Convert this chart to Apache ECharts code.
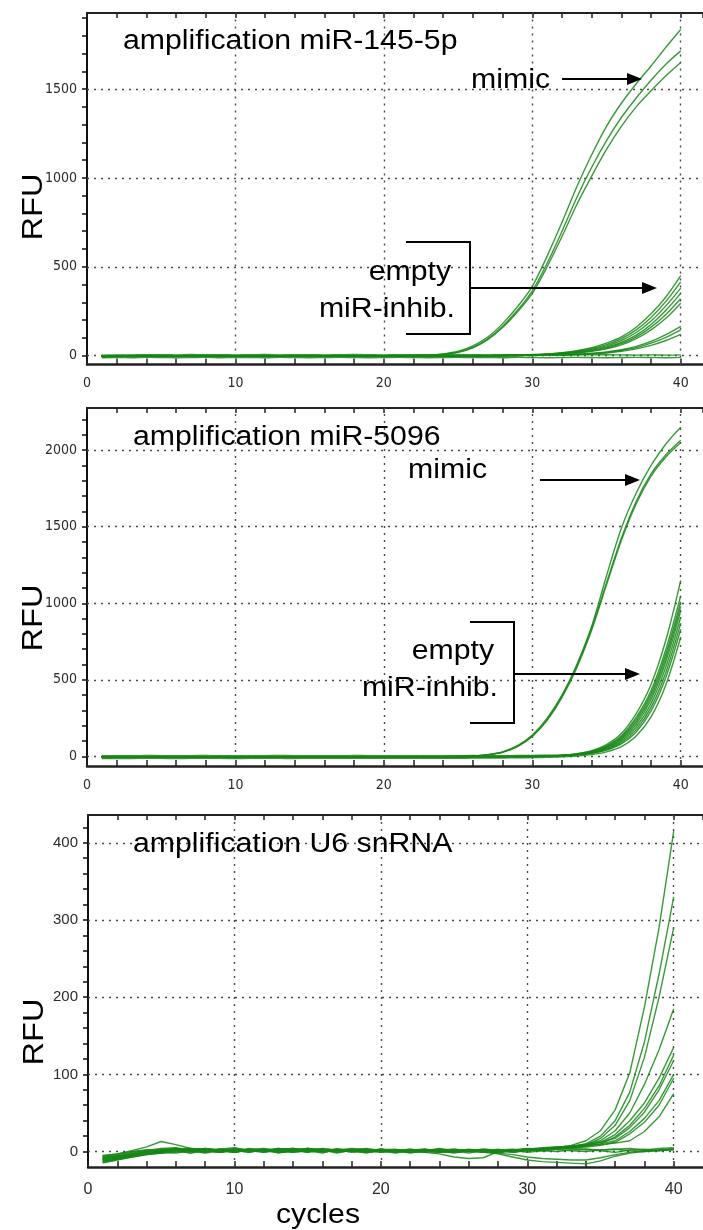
<!DOCTYPE html>
<html><head><meta charset="utf-8">
<script src="https://cdn.jsdelivr.net/npm/echarts@6/dist/echarts.min.js"></script>
<style>html,body{margin:0;padding:0;background:#fff}#c{width:703px;height:1230px}</style>
</head><body><div id="c"></div>
<script>
// ---------- data ----------
const cycles = [1,2,3,4,5,6,7,8,9,10,11,12,13,14,15,16,17,18,19,20,21,22,23,24,25,26,27,28,29,30,31,32,33,34,35,36,37,38,39,40];
const xTickLabels = [0,10,20,30,40];

// Panel 1: miR-145-5p
const p1Ticks = [0,500,1000,1500];
const p1Mimic1 = [-4,-3,-4,-2,-3,-2,1,-2,-3,-1,-2,-3,-2,-1,-3,-2,-2,-1,-2,-1,0,1,3,10,25,55,105,180,275,390,560,750,950,1130,1290,1420,1530,1630,1735,1835];
const p1Mimic2 = [-3,-4,-2,-3,-1,-2,-3,-1,-2,-3,-2,-1,-2,-3,-1,-2,-3,-2,-1,-2,-1,0,2,8,20,48,95,165,255,365,520,700,890,1060,1210,1340,1450,1550,1640,1715];
const p1Mimic3 = [-5,-3,-3,-4,-2,-3,-1,-2,-4,-2,-3,-1,-3,-2,-2,-3,-1,-2,-3,-1,-1,0,2,7,18,44,90,158,245,350,500,670,850,1010,1160,1290,1400,1490,1575,1650];
const p1Empty1 = [-6,-4,-5,-3,-4,-3,-2,-4,-3,-2,-3,-4,-2,-3,-2,-3,-4,-2,-3,-2,-1,-2,-1,-2,-1,0,1,2,3,6,10,17,28,45,70,105,160,235,330,450];
const p1Empty2 = [-5,-5,-3,-4,-3,-2,-4,-3,-3,-2,-4,-3,-2,-3,-3,-2,-3,-2,-3,-2,-2,-1,-2,-1,0,-1,0,1,3,5,9,15,25,40,62,95,145,215,305,415];
const p1Empty3 = [-4,-3,-4,-2,-3,-3,-2,-3,-4,-2,-3,-2,-3,-3,-2,-4,-2,-3,-2,-3,-2,-1,-2,-2,-1,0,-1,1,2,4,8,13,22,35,55,85,130,195,280,380];
const p1Empty4 = [-6,-4,-3,-3,-2,-4,-3,-2,-3,-3,-2,-3,-4,-2,-3,-2,-3,-3,-2,-2,-3,-2,-1,-2,-1,-1,0,0,2,3,6,11,18,30,48,75,115,175,255,350];
const p1Empty5 = [-5,-3,-4,-3,-3,-2,-3,-4,-2,-3,-3,-2,-4,-3,-2,-3,-2,-3,-2,-3,-2,-2,-1,-2,-1,0,-1,0,1,3,5,10,16,27,43,68,105,160,232,320];
const p1Empty6 = [-4,-4,-3,-2,-3,-3,-4,-2,-3,-2,-3,-3,-2,-4,-2,-3,-3,-2,-2,-3,-2,-1,-2,-1,-1,0,-1,0,1,2,4,8,14,24,38,60,95,145,210,295];
const p1Empty7 = [-5,-4,-3,-3,-4,-2,-3,-3,-2,-4,-3,-2,-3,-2,-3,-4,-2,-3,-2,-2,-3,-2,-1,-2,-1,-1,0,-1,1,2,3,5,8,13,21,33,52,80,118,165];
const p1Empty8 = [-3,-4,-3,-2,-3,-3,-2,-3,-4,-2,-3,-3,-2,-3,-2,-2,-3,-4,-2,-3,-2,-1,-2,-1,-2,0,-1,0,1,2,3,4,7,11,18,29,45,70,103,145];
const p1Empty9 = [-4,-3,-3,-3,-2,-3,-4,-2,-3,-3,-2,-3,-2,-3,-3,-2,-3,-2,-3,-2,-2,-2,-1,-2,-1,-1,0,-1,0,1,2,4,6,9,15,24,38,58,85,120];
const p1Flat1 = [3,4,4,5,5,4,6,5,5,4,5,6,4,5,5,4,5,6,5,4,5,5,4,5,6,5,4,5,5,4,5,4,5,4,5,4,3,4,3,4];
const p1Flat2 = [-12,-11,-12,-10,-11,-12,-11,-10,-12,-11,-11,-12,-10,-11,-12,-11,-10,-11,-12,-11,-10,-11,-12,-11,-10,-11,-11,-12,-10,-11,-12,-11,-10,-11,-12,-11,-10,-11,-12,-10];

// Panel 2: miR-5096
const p2Ticks = [0,500,1000,1500,2000];
const p2Mimic1 = [-6,-5,-4,-5,-3,-4,-4,-3,-5,-4,-3,-4,-4,-3,-4,-3,-3,-4,-2,-3,-3,-2,-2,-1,0,4,12,30,70,140,250,400,600,850,1180,1490,1720,1900,2040,2150];
const p2Mimic2 = [-5,-5,-4,-4,-4,-3,-4,-5,-3,-4,-4,-3,-3,-4,-3,-4,-3,-3,-3,-2,-2,-3,-1,-2,0,3,10,27,64,130,235,385,580,825,1120,1410,1650,1830,1955,2050];
const p2Mimic3 = [-6,-4,-5,-4,-3,-4,-3,-4,-4,-3,-4,-3,-4,-3,-3,-3,-4,-2,-3,-3,-2,-2,-2,-1,0,3,11,28,66,134,240,392,590,838,1135,1425,1665,1845,1970,2065];
const p2Empty1 = [-7,-6,-5,-5,-6,-4,-5,-5,-4,-5,-4,-5,-4,-4,-5,-4,-4,-3,-4,-4,-3,-4,-3,-3,-3,-2,-3,-2,-1,0,3,8,18,38,78,150,280,470,760,1150];
const p2Empty2 = [-6,-5,-6,-4,-5,-5,-4,-5,-4,-4,-5,-4,-4,-5,-3,-4,-4,-3,-4,-3,-3,-4,-3,-2,-3,-2,-2,-1,-1,0,2,7,16,34,70,135,255,430,700,1050];
const p2Empty3 = [-5,-6,-4,-5,-4,-5,-5,-4,-4,-5,-4,-4,-5,-3,-4,-4,-3,-4,-3,-3,-4,-3,-2,-3,-2,-2,-1,-2,0,0,2,6,14,31,65,127,240,410,670,1010];
const p2Empty4 = [-7,-5,-5,-4,-5,-4,-4,-5,-4,-4,-5,-3,-4,-4,-3,-4,-3,-3,-4,-3,-3,-2,-3,-2,-2,-1,-2,-1,0,1,2,6,13,29,60,118,225,390,645,980];
const p2Empty5 = [-5,-5,-4,-5,-4,-4,-5,-3,-4,-4,-4,-5,-3,-4,-3,-4,-4,-3,-3,-3,-2,-3,-2,-3,-1,-2,-1,-1,0,1,2,5,12,27,56,110,210,370,620,950];
const p2Empty6 = [-6,-5,-5,-5,-4,-5,-4,-4,-5,-4,-4,-4,-3,-4,-4,-3,-4,-3,-3,-4,-3,-2,-3,-2,-2,-2,-1,-1,0,0,2,4,11,24,50,100,192,345,585,910];
const p2Empty7 = [-5,-6,-4,-5,-5,-4,-4,-5,-3,-4,-4,-3,-4,-4,-3,-3,-4,-3,-2,-3,-3,-2,-2,-2,-1,-2,-1,0,0,1,2,4,10,22,45,90,175,320,550,870];
const p2Empty8 = [4,5,5,6,5,4,5,6,5,5,4,5,6,5,4,5,5,6,5,4,5,5,4,5,5,6,5,5,6,7,8,9,12,21,42,82,160,297,517,830];
const p2Empty9 = [-14,-13,-14,-12,-13,-14,-13,-12,-13,-14,-13,-12,-13,-14,-12,-13,-13,-12,-13,-12,-13,-12,-12,-11,-12,-11,-10,-10,-9,-8,-6,-3,3,12,30,64,133,258,468,780];

// Panel 3: U6 snRNA
const p3Ticks = [0,100,200,300,400];
const p3Rise1 = [-10,-7,-3,-1,2,4,2,-1,3,5,1,3,-2,1,4,3,-1,1,4,1,-2,1,3,1,-1,2,0,3,-1,2,4,5,8,14,27,54,102,187,290,415];
const p3Rise2 = [-14,-10,-6,-3,-1,2,-2,3,1,-1,4,2,-1,3,1,-2,3,1,-1,2,3,-1,1,4,1,-2,2,0,1,3,4,5,6,10,20,40,77,142,230,330];
const p3Rise3 = [-6,-4,-1,2,0,3,1,-2,1,4,2,-1,2,4,0,1,3,-1,0,3,2,-1,1,2,0,3,1,-1,2,4,3,4,5,8,17,34,66,122,200,290];
const p3Rise4 = [-13,-9,-5,-2,-2,1,3,1,-1,2,3,0,4,2,-1,2,1,4,3,-1,1,3,0,-1,2,1,3,1,0,2,4,5,7,10,14,27,50,87,132,185];
const p3Rise5 = [-9,-7,-4,-1,1,3,4,2,0,2,-1,3,1,2,4,0,2,3,-1,2,0,2,-1,3,1,0,2,-1,2,1,3,5,6,8,12,22,40,63,95,135];
const p3Rise6 = [-15,-11,-7,-4,-2,-1,1,-1,2,0,2,3,-1,1,2,3,0,2,-2,2,1,-1,2,1,-2,1,0,2,3,1,2,4,5,7,10,19,34,56,85,125];
const p3Rise7 = [-5,-3,0,2,3,1,4,3,2,-1,2,1,3,2,-1,4,2,1,3,0,2,1,-1,2,3,1,2,0,1,3,5,6,7,9,12,17,31,51,80,118];
const p3Rise8 = [-11,-9,-5,-3,0,1,-2,1,3,2,0,2,-1,1,3,0,3,2,-1,1,2,0,3,-1,1,2,0,1,-1,1,3,4,5,7,10,14,26,43,66,100];
const p3Rise9 = [-12,-10,-7,-4,-2,1,0,2,-1,3,2,-1,2,4,1,2,-2,2,1,3,-1,2,1,-1,0,2,1,-2,1,2,3,4,5,6,8,12,23,38,60,95];
const p3Rise10 = [-8,-6,-3,-1,1,3,1,4,2,0,3,1,-1,2,4,1,3,2,0,3,1,-2,1,3,1,2,-1,1,2,3,4,6,7,8,9,11,14,26,45,75];
const p3Flat1 = [-6,-3,1,6,13,9,4,3,-1,1,2,4,1,-1,1,3,2,0,2,1,-1,2,3,0,1,2,-1,0,2,3,1,0,2,3,1,-1,2,3,1,4];
const p3Flat2 = [-9,-7,-4,-1,1,3,1,4,2,-1,2,1,3,4,2,-1,2,1,3,2,1,0,-1,-3,-7,-9,-8,0,2,-1,1,3,1,0,2,3,1,0,2,3];
const p3Flat3 = [-12,-9,-6,-3,-1,-2,1,2,-1,2,1,3,1,-1,2,1,3,1,-1,1,0,2,1,-1,1,0,-1,-3,-7,-11,-13,-14,-15,-16,-12,-6,-2,0,1,3];
const p3Flat4 = [-7,-5,-3,0,2,4,2,0,3,2,-1,2,4,1,2,3,0,2,1,3,1,2,0,1,3,1,0,-2,-4,-7,-9,-10,-11,-11,-8,-4,-1,1,2,2];
const p3Flat5 = [-10,-6,-2,1,4,5,2,1,3,-1,2,1,3,0,4,2,1,3,1,-1,1,3,1,2,-1,1,3,2,1,3,2,3,4,3,2,3,4,2,4,5];

const panel1 = [p1Mimic1,p1Mimic2,p1Mimic3,p1Empty1,p1Empty2,p1Empty3,p1Empty4,p1Empty5,p1Empty6,p1Empty7,p1Empty8,p1Empty9,p1Flat1,p1Flat2];
const panel2 = [p2Mimic1,p2Mimic2,p2Mimic3,p2Empty1,p2Empty2,p2Empty3,p2Empty4,p2Empty5,p2Empty6,p2Empty7,p2Empty8,p2Empty9];
const panel3 = [p3Rise1,p3Rise2,p3Rise3,p3Rise4,p3Rise5,p3Rise6,p3Rise7,p3Rise8,p3Rise9,p3Rise10,p3Flat1,p3Flat2,p3Flat3,p3Flat4,p3Flat5];

// ---------- chart ----------
const chart = echarts.init(document.getElementById('c'), null, {renderer:'canvas'});
const NARROW = "'Liberation Sans Narrow','DejaVu Sans Condensed','Liberation Sans',sans-serif";
const SANS = "'Liberation Sans',Arial,sans-serif";
const LINE = 'rgba(22,135,22,0.85)';
const GRIDSTYLE = {type:[2,5], color:'#4a4a4a', width:1.4};

const grids = [
  {left:87, top:13, width:616, height:351.5},
  {left:87, top:408, width:616, height:358},
  {left:88, top:815, width:615, height:352}
];
const xMax = [41.5, 41.5, 42];
const yCfg = [
  {min:-50, max:1928, interval:50, labels:p1Ticks, step:500, minor:100, font:NARROW, size:14, margin:10},
  {min:-62.5, max:2275, interval:62.5, labels:p2Ticks, step:500, minor:100, font:NARROW, size:14, margin:10},
  {min:-20, max:436, interval:20, labels:p3Ticks, step:100, minor:20, font:SANS, size:15, margin:10}
];
const xFont = [
  {font:NARROW, size:14, margin:12},
  {font:NARROW, size:14, margin:12},
  {font:SANS, size:16, margin:15}
];

const xAxes = [], yAxes = [];
grids.forEach((g, i) => {
  xAxes.push({
    gridIndex:i, type:'value', min:0, max:xMax[i], interval:2, position:'bottom',
    axisLine:{show:true, onZero:false, lineStyle:{color:'#222', width:2.5}},
    axisTick:{show:true, inside:true, length:6, lineStyle:{color:'#222', width:1.5}},
    axisLabel:{show:true, showMaxLabel:false, margin:xFont[i].margin, fontFamily:xFont[i].font, fontSize:xFont[i].size, color:'#2a2a2a',
      formatter:v => xTickLabels.indexOf(v) >= 0 ? String(v) : ''},
    splitLine:{show:false}
  });
  xAxes.push({
    gridIndex:i, type:'value', min:0, max:xMax[i], interval:2, position:'top',
    axisLine:{show:true, onZero:false, lineStyle:{color:'#222', width:2}},
    axisTick:{show:true, inside:true, length:5, lineStyle:{color:'#222', width:1.5}},
    axisLabel:{show:false}, splitLine:{show:false}
  });
  const c = yCfg[i];
  const minorVals = [];
  for (let v = 0; v <= c.max; v += c.minor) minorVals.push(v);
  yAxes.push({
    gridIndex:i, type:'value', min:c.min, max:c.max, interval:c.interval,
    axisLine:{show:true, onZero:false, lineStyle:{color:'#111', width:2}},
    axisTick:{show:true, length:5, customValues:minorVals, lineStyle:{color:'#111', width:1.5}},
    axisLabel:{show:true, showMinLabel:false, showMaxLabel:false, margin:c.margin, fontFamily:c.font, fontSize:c.size, color:'#2a2a2a',
      formatter:v => (Math.abs(v - Math.round(v / c.step) * c.step) < 1e-6 && v >= 0) ? String(Math.round(v)) : ''},
    splitLine:{show:false}
  });
});

function buildSeries(list, gi, smooth) {
  return list.map((arr, k) => {
    const s = {
      type:'line', xAxisIndex:gi*2, yAxisIndex:gi, symbol:'none', showSymbol:false,
      smooth:smooth, silent:true, animation:false, z:3,
      lineStyle:{color:LINE, width:1.4},
      data:cycles.map((c, j) => [c, arr[j]])
    };
    if (k === 0) {
      const ml = yCfg[gi].labels.map(v => ({yAxis:v})).concat(xTickLabels.filter(v => v > 0).map(v => ({xAxis:v})));
      s.markLine = {silent:true, symbol:['none','none'], label:{show:false}, animation:false, z:1,
        lineStyle:GRIDSTYLE, emphasis:{disabled:true}, data:ml};
    }
    return s;
  });
}
const series = [].concat(buildSeries(panel1, 0, 0.3), buildSeries(panel2, 1, 0.3), buildSeries(panel3, 2, false));

// ---------- annotations ----------
const TF = "27px 'Liberation Sans', Arial, sans-serif";
const SX = 1.12;
function txt(x, y, text, align, font) {
  return {type:'text', x:x, y:y, scaleX:SX, z:10, silent:true,
    style:{text:text, font:font || TF, fill:'#000', align:align, verticalAlign:'middle', textAlign:align, textVerticalAlign:'middle'}};
}
function arrow(x1, x2, y) {
  return [
    {type:'line', z:10, silent:true, shape:{x1:x1, y1:y, x2:x2 - 12, y2:y}, style:{stroke:'#000', lineWidth:2.2}},
    {type:'polygon', z:10, silent:true, shape:{points:[[x2 - 15, y - 6], [x2, y], [x2 - 15, y + 6]]}, style:{fill:'#000'}}
  ];
}
function bracket(xl, xr, yt, yb) {
  return {type:'polyline', z:10, silent:true, shape:{points:[[xl, yt], [xr, yt], [xr, yb], [xl, yb]]}, style:{stroke:'#000', lineWidth:2, fill:null}};
}
function rfu(x, y) {
  return {type:'text', x:x, y:y, rotation:Math.PI / 2, scaleX:SX, z:10, silent:true,
    style:{text:'RFU', font:"29px 'Liberation Sans', Arial, sans-serif", fill:'#000', align:'center', verticalAlign:'middle', textAlign:'center', textVerticalAlign:'middle'}};
}
const graphics = [].concat(
  [txt(123, 42, 'amplification miR-145-5p', 'left'),
   txt(550, 81, 'mimic', 'right'),
   txt(451, 273, 'empty', 'right'),
   txt(455, 310, 'miR-inhib.', 'right'),
   bracket(406, 470, 242, 334)],
  arrow(562, 642, 79), arrow(470, 657, 288),
  [txt(133, 438, 'amplification miR-5096', 'left'),
   txt(487, 471, 'mimic', 'right'),
   txt(494, 652, 'empty', 'right'),
   txt(498, 689, 'miR-inhib.', 'right'),
   bracket(470, 514, 622, 723)],
  arrow(540, 640, 480), arrow(514, 640, 674),
  [txt(133, 845, 'amplification U6 snRNA', 'left'),
   txt(318, 1216, 'cycles', 'center'),
   rfu(34, 207), rfu(34, 618), rfu(35, 1032)]
);

chart.setOption({
  animation:false,
  backgroundColor:'#fff',
  grid:grids,
  xAxis:xAxes,
  yAxis:yAxes,
  series:series,
  graphic:graphics
});
</script></body></html>
